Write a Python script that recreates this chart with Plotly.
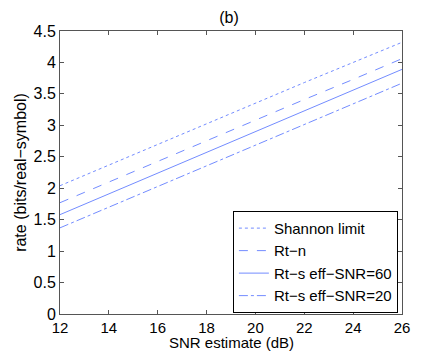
import plotly.graph_objects as go

snr_db = [12, 14, 16, 18, 20, 22, 24, 26]
shannon = [2.04, 2.37, 2.70, 3.02, 3.35, 3.68, 4.00, 4.32]
rt_n = [1.77, 2.10, 2.43, 2.75, 3.08, 3.41, 3.73, 4.06]
rt_s60 = [1.58, 1.91, 2.24, 2.57, 2.90, 3.23, 3.56, 3.89]
rt_s20 = [1.37, 1.70, 2.03, 2.36, 2.69, 3.02, 3.35, 3.67]

x_ticks = [12, 14, 16, 18, 20, 22, 24, 26]
y_ticks = [0, 0.5, 1, 1.5, 2, 2.5, 3, 3.5, 4, 4.5]
y_tick_text = ["0", "0.5", "1", "1.5", "2", "2.5", "3", "3.5", "4", "4.5"]

names = ["Shannon limit", "Rt\u2212n", "Rt\u2212s eff\u2212SNR=60", "Rt\u2212s eff\u2212SNR=20"]
dashes = ["dot", "dash", "solid", "dashdot"]
series = [shannon, rt_n, rt_s60, rt_s20]
color = "rgb(115,140,255)"

# The page body has an 8px default margin, so the figure is sized to fit inside it.
W, H = 414, 345
L, R, T, B = 41, 13, 23, 39
plot_h = H - T - B

fig = go.Figure()
for name, d, ys in zip(names, dashes, series):
    fig.add_trace(go.Scatter(x=snr_db, y=ys, mode="lines", name=name,
                             line=dict(color=color, width=1, dash=d)))

font = "Liberation Sans, Arial, Helvetica, sans-serif"
axis_common = dict(showgrid=False, zeroline=False, showline=True, linecolor="#555",
                   linewidth=1, mirror="ticks", ticks="inside", ticklen=4,
                   tickcolor="#555")

fig.update_layout(
    width=W, height=H,
    margin=dict(l=L, r=R, t=T, b=B),
    paper_bgcolor="white", plot_bgcolor="white",
    font=dict(family=font, size=16, color="black"),
    title=dict(text="(b)", x=(L + (W - R)) / 2 / W, xanchor="center", y=1 - 9 / H,
               yanchor="middle", font=dict(size=16)),
    xaxis=dict(range=[12, 26], tickvals=x_ticks, ticktext=[str(v) for v in x_ticks],
               tickfont=dict(size=15, color="black", family=font),
               **axis_common),
    yaxis=dict(range=[0, 4.5], tickvals=y_ticks, ticktext=y_tick_text,
               tickfont=dict(size=16, color="black", family=font),
               title=dict(text="rate (bits/real\u2212symbol)", standoff=2, font=dict(size=16)),
               **axis_common),
    showlegend=True,
    legend=dict(x=0.988, xanchor="right", y=0.004, yanchor="bottom",
                bgcolor="white", bordercolor="black", borderwidth=1,
                font=dict(size=15, color="black", family=font),
                tracegroupgap=0, itemwidth=30),
    annotations=[dict(text="SNR estimate (dB)", xref="paper", yref="paper",
                      x=0.5, y=-(B - 1) / plot_h, xanchor="center", yanchor="bottom",
                      borderpad=0,
                      showarrow=False, font=dict(size=15, color="black", family=font))],
)

fig.write_html("out.html")
